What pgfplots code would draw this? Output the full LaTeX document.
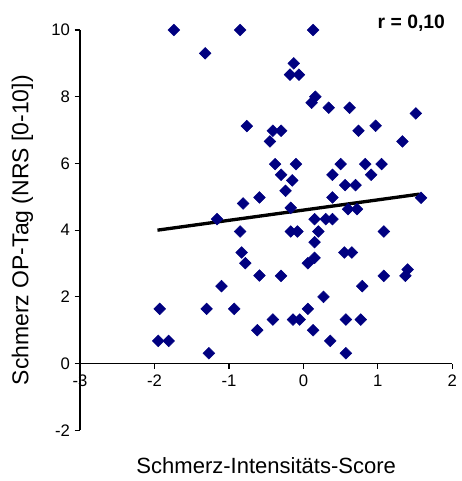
\documentclass[border=0pt]{standalone}
\usepackage{fontspec}
\setmainfont{Liberation Sans}
\usepackage{pgfplots}
\pgfplotsset{compat=1.18}
\definecolor{navy}{RGB}{0,0,128}

\pgfplotstableread{
x y
-1.74 10
-0.85 10
-1.32 9.3
0.13 10
-0.13 9.0
-0.18 8.66
-0.06 8.66
0.16 8.0
0.11 7.82
0.34 7.67
0.62 7.67
1.51 7.5
0.74 6.98
0.97 7.13
1.33 6.66
-0.41 6.98
-0.30 6.98
-0.45 6.66
-0.38 5.98
-0.10 5.98
-0.30 5.66
-0.15 5.49
-0.24 5.18
0.50 5.98
0.39 5.66
0.56 5.35
0.70 5.35
0.83 5.98
0.91 5.66
1.05 5.98
0.39 4.98
-0.59 4.98
1.58 4.97
-0.76 7.12
-0.81 4.80
-1.16 4.33
-0.85 3.96
-0.83 3.33
-0.78 3.01
-0.59 2.64
-1.10 2.32
-1.93 1.64
-1.30 1.64
-0.93 1.64
-1.95 0.68
-1.81 0.68
-1.27 0.31
-0.62 1.0
-0.17 4.67
0.60 4.63
0.72 4.63
0.15 4.33
0.30 4.33
0.39 4.33
-0.17 3.96
-0.08 3.96
0.20 3.96
1.08 3.96
0.15 3.64
0.55 3.33
0.65 3.33
0.15 3.17
0.06 3.01
-0.30 2.63
1.08 2.63
1.37 2.63
1.40 2.82
0.79 2.32
0.27 2.0
0.06 1.64
-0.41 1.32
-0.14 1.32
-0.05 1.32
0.57 1.32
0.77 1.32
0.13 1.0
0.36 0.68
0.57 0.31
}\pts

\begin{document}
\begin{tikzpicture}
\begin{axis}[
  width=279pt, height=300pt, scale only axis,
  xmin=-3, xmax=2, ymin=-2, ymax=10,
  axis x line=middle, axis y line=left,
  axis line style={-, line width=0.9pt},
  every inner x axis line/.append style={-},
  every outer y axis line/.append style={-},
  hide obscured x ticks=false, hide obscured y ticks=false,
  xtick={-3,-2,...,2}, ytick={-2,0,...,10},
  tick align=outside, major tick length=4pt,
  tick style={black, line width=0.9pt},
  ticklabel style={font=\fontsize{12.5}{15}\selectfont},
  /pgf/number format/assume math mode=true,
  xticklabel style={yshift=-1pt},
  xlabel={Schmerz-Intensitäts-Score},
  x label style={at={(axis description cs:0.5,-0.0875)}, anchor=center,
    font=\fontsize{16.5}{19}\selectfont},
  ylabel={Schmerz OP-Tag (NRS [0-10])},
  y label style={at={(axis description cs:-0.155,0.5)}, anchor=center,
    font=\fontsize{17.2}{20}\selectfont},
  clip=false,
]
\addplot[only marks, mark=square*, mark size=3.1pt, color=navy,
  mark options={rotate=45, fill=navy, draw=navy}] table {\pts};
\addplot[black, line width=2.5pt] coordinates {(-1.96,4.0)(1.56,5.08)};
\node[anchor=base east, font=\bfseries\fontsize{14.5}{17}\selectfont]
  at (rel axis cs:1,1) [xshift=-2pt, yshift=1.5pt] {r = 0,10};
% page size of the reference
\path ([xshift=-60pt, yshift=-38pt]rel axis cs:0,0)
  rectangle ([xshift=5.25pt, yshift=22.5pt]rel axis cs:1,1);
\end{axis}
\end{tikzpicture}
\end{document}
